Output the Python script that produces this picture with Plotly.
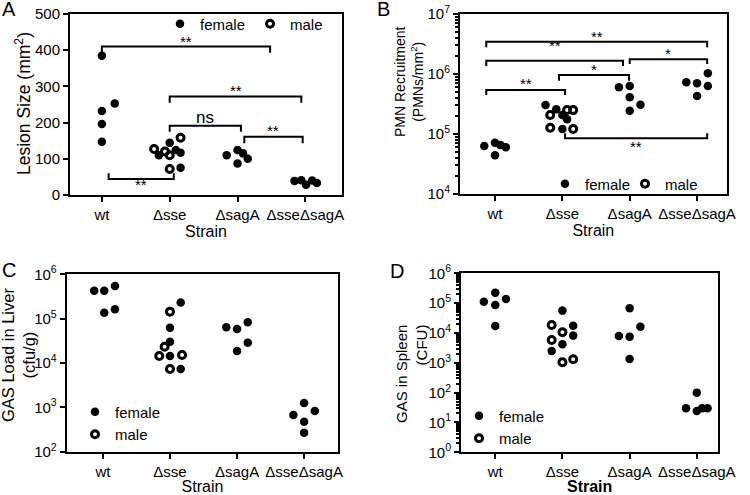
import numpy as np
import plotly.graph_objects as go

# categories and tick labels
strains = ["wt", "Δsse", "ΔsagA", "ΔsseΔsagA"]

# ---- panel A: lesion size (mm2); (category, jitter, value)
a_female_cat = [0, 0, 0, 0, 0, 1, 1, 1, 1, 1, 2, 2, 2, 2, 2, 3, 3, 3, 3, 3]
a_female_jit = [0, 0.19, 0, 0, 0, -0.16, 0, 0.09, 0.16, 0.16, -0.16, 0, 0.08, 0.15, 0, -0.16, -0.06, 0.01, 0.1, 0.17]
a_female_val = [385, 253, 232, 196, 147, 110, 144, 124, 117, 75, 110, 124, 115, 100, 87, 39, 41, 28, 40, 33]
a_male_cat = [1, 1, 1, 1, 1]
a_male_jit = [-0.23, -0.07, 0, 0.16, 0]
a_male_val = [127, 120, 110, 158, 72]
# significance brackets: (start, end, level, tick end, label, label level)
a_brackets = [
    (0, 2.48, 410, 393, "**", 425),
    (1.0, 2.94, 272, 255, "**", 290),
    (1.0, 2.05, 191, 175, "ns", 215),
    (2.1, 2.96, 161, 143, "**", 178),
    (0.1, 1.06, 44, 60, "**", 28),
]

# ---- panel B: PMN recruitment (PMNs/mm2)
b_female_cat = [0, 0, 0, 0, 0, 1, 1, 1, 1, 1, 2, 2, 2, 2, 2, 3, 3, 3, 3, 3]
b_female_jit = [-0.16, 0, 0.08, 0.16, 0, -0.25, -0.09, 0, 0.07, 0, -0.16, 0, 0, 0.16, 0, -0.16, 0, 0.16, 0.16, 0]
b_female_val = [63000, 71600, 65600, 60000, 44200, 304000, 258000, 207000, 176000, 121000,
                600000, 631000, 409000, 308000, 245000, 727000, 699000, 1026000, 631000, 430000]
b_male_cat = [1, 1, 1, 1, 1]
b_male_jit = [-0.18, 0.07, 0.16, -0.18, 0.16]
b_male_val = [207000, 251000, 250000, 127000, 121000]
b_brackets = [
    (-0.13, 3.15, 10**6.539, 10**6.444, "**", 10**6.633),
    (-0.13, 1.9, 10**6.222, 10**6.133, "**", 10**6.467),
    (2.0, 3.15, 10**6.244, 10**6.167, "*", 10**6.344),
    (0.95, 1.99, 10**5.983, 10**5.889, "*", 10**6.078),
    (-0.13, 1.04, 10**5.733, 10**5.65, "**", 10**5.844),
    (1.04, 3.15, 10**4.928, 10**5.011, "**", 10**4.789),
]

# ---- panel C: GAS load in liver (cfu/g)
c_female_cat = [0, 0, 0, 0, 0, 1, 1, 1, 1, 1, 2, 2, 2, 2, 2, 3, 3, 3, 3, 3]
c_female_jit = [-0.13, 0.02, 0.18, 0.02, 0.18, 0.16, 0, 0, 0, 0.16, -0.16, 0, 0.16, 0.16, 0, -0.16, 0, 0.16, 0, 0]
c_female_val = [428000, 428000, 546000, 136000, 162000, 230000, 62600, 30300, 14400, 7330,
                63800, 58500, 82600, 28800, 18700, 671, 1250, 826, 475, 268]
c_male_cat = [1, 1, 1, 1, 1]
c_male_jit = [0, -0.08, -0.16, 0.18, 0]
c_male_val = [144000, 23300, 14400, 15100, 7330]

# ---- panel D: GAS in spleen (CFU)
d_female_cat = [0, 0, 0, 0, 0, 1, 1, 1, 1, 1, 2, 2, 2, 2, 2, 3, 3, 3, 3, 3]
d_female_jit = [-0.17, 0, 0, 0.16, 0, 0, 0.16, 0.16, 0, -0.16, 0, 0.16, -0.16, 0, 0, 0, -0.16, 0, 0.08, 0.16]
d_female_val = [112000, 225000, 86900, 138000, 17200, 56100, 17600, 8150, 4170, 2490,
                67100, 16300, 7940, 7540, 1340, 100, 29.9, 24.3, 29.9, 29.9]
d_male_cat = [1, 1, 1, 1, 1]
d_male_jit = [-0.16, 0, -0.16, 0, 0.16]
d_male_val = [18500, 10500, 5820, 1040, 1310]

FONT = "Arial, Liberation Sans, sans-serif"
W, H = 750, 495


def px_dom(a, b, total):
    return [a / total, b / total]


def ydom(top, bottom):
    return [1 - bottom / H, 1 - top / H]


fig = go.Figure()

panels = [
    # axis suffix, female, male, brackets, legend name, log y
    ("", (a_female_cat, a_female_jit, a_female_val), (a_male_cat, a_male_jit, a_male_val), a_brackets, "legend", False),
    ("2", (b_female_cat, b_female_jit, b_female_val), (b_male_cat, b_male_jit, b_male_val), b_brackets, "legend2", True),
    ("3", (c_female_cat, c_female_jit, c_female_val), (c_male_cat, c_male_jit, c_male_val), [], "legend3", True),
    ("4", (d_female_cat, d_female_jit, d_female_val), (d_male_cat, d_male_jit, d_male_val), [], "legend4", True),
]

for sfx, fem, mal, brackets, leg, is_log in panels:
    xa, ya = "x" + sfx, "y" + sfx
    # brackets first so dots sit on top
    for x0, x1, lvl, tip, lab, lab_y in brackets:
        fig.add_trace(go.Scatter(
            x=[x0, x0, x1, x1], y=[tip, lvl, lvl, tip], mode="lines",
            line=dict(color="black", width=2), xaxis=xa, yaxis=ya,
            showlegend=False, hoverinfo="skip"))
        fig.add_annotation(
            x=(x0 + x1) / 2, y=np.log10(lab_y) if is_log else lab_y, xref=xa, yref=ya,
            text=lab, showarrow=False, xanchor="center", yanchor="middle",
            font=dict(family=FONT, size=17 if lab == "ns" else 15, color="black"))
    fig.add_trace(go.Scatter(
        x=np.array(fem[0]) + np.array(fem[1]), y=fem[2], mode="markers", name="female",
        marker=dict(color="black", size=8.5, symbol="circle"),
        xaxis=xa, yaxis=ya, legend=leg))
    fig.add_trace(go.Scatter(
        x=np.array(mal[0]) + np.array(mal[1]), y=mal[2], mode="markers", name="male",
        marker=dict(color="black", size=7, symbol="circle-open", line=dict(width=3, color="black")),
        xaxis=xa, yaxis=ya, legend=leg))

axis_common = dict(showline=True, linecolor="black", linewidth=2, mirror=True,
                   ticks="outside", ticklen=5, tickwidth=2, tickcolor="black",
                   showgrid=False, zeroline=False, automargin=False,
                   tickfont=dict(family=FONT, size=15, color="black"))


def xaxis_def(dom, rng, anchor, bold=False):
    title = "<b>Strain</b>" if bold else "Strain"
    return dict(axis_common, domain=dom, range=rng, anchor=anchor,
                tickmode="array", tickvals=list(range(len(strains))), ticktext=strains,
                title=dict(text=title, font=dict(family=FONT, size=16, color="black"), standoff=4))


def log_ticks(lo, hi):
    vals = [10 ** k for k in range(lo, hi + 1)]
    text = ["10<sup>%d</sup>" % k for k in range(lo, hi + 1)]
    return vals, text


def minor_vals(lo, hi):
    return [m * 10 ** k for k in range(lo, hi) for m in range(2, 10)]


fig.update_layout(
    xaxis=xaxis_def(px_dom(70, 342, W), [-0.47, 3.54], "y"),
    yaxis=dict(axis_common, domain=ydom(14, 195), range=[0, 500], anchor="x",
               tickmode="array", tickvals=[0, 100, 200, 300, 400, 500]),
    xaxis2=xaxis_def(px_dom(460, 726.7, W), [-0.52, 3.44], "y2"),
    xaxis3=xaxis_def(px_dom(66.7, 338.3, W), [-0.54, 3.51], "y3"),
    xaxis4=xaxis_def(px_dom(461, 718.3, W), [-0.51, 3.32], "y4", bold=True),
)

bv, bt = log_ticks(4, 7)
cv, ct = log_ticks(2, 6)
dv, dt = log_ticks(0, 6)
fig.update_layout(
    yaxis2=dict(axis_common, domain=ydom(14, 194), type="log", range=[4, 7], anchor="x2",
                tickmode="array", tickvals=bv, ticktext=bt,
                minor=dict(ticks="outside", ticklen=3, tickwidth=2, tickcolor="black",
                           tickmode="array", tickvals=minor_vals(4, 7))),
    yaxis3=dict(axis_common, domain=ydom(274.3, 451.7), type="log", range=[2, 6], anchor="x3",
                tickmode="array", tickvals=cv, ticktext=ct),
    yaxis4=dict(axis_common, domain=ydom(273.3, 452.3), type="log", range=[0, 6], anchor="x4",
                tickmode="array", tickvals=dv, ticktext=dt,
                minor=dict(ticks="outside", ticklen=3, tickwidth=1.5, tickcolor="black",
                           tickmode="array", tickvals=minor_vals(0, 6))),
)

leg_common = dict(bgcolor="rgba(0,0,0,0)", font=dict(family=FONT, size=15, color="black"),
                  itemwidth=30, tracegroupgap=0, xref="paper", yref="paper",
                  xanchor="left", yanchor="middle")
fig.update_layout(
    legend=dict(leg_common, orientation="h", x=160 / W, y=1 - 24 / H),
    legend2=dict(leg_common, orientation="h", x=545 / W, y=1 - 184 / H, entrywidth=35),
    legend3=dict(leg_common, orientation="v", x=75 / W, y=1 - 423 / H),
    legend4=dict(leg_common, orientation="v", x=459 / W, y=1 - 427 / H),
)

# y axis titles and panel letters
ann = [
    dict(x=23, y=104, text="Lesion Size (mm<sup>2</sup>)", size=17.5, align="center"),
    dict(x=409, y=82, text="PMN Recruitment<br>(PMNs/mm<sup>2</sup>)", size=14, align="center"),
    dict(x=18, y=355, text="GAS Load in Liver<br>(cfu/g)", size=16.5, align="center"),
    dict(x=411, y=374, text="GAS in Spleen<br>(CFU)", size=15, align="right"),
]
for a in ann:
    fig.add_annotation(x=a["x"] / W, y=1 - a["y"] / H, xref="paper", yref="paper",
                       text=a["text"], textangle=-90, showarrow=False, align=a["align"],
                       xanchor="center", yanchor="middle",
                       font=dict(family=FONT, size=a["size"], color="black"))

for letter, lx, ly in [("A", 0, 9), ("B", 375, 9), ("C", 0, 270), ("D", 388, 271)]:
    fig.add_annotation(x=lx / W, y=1 - ly / H, xref="paper", yref="paper", text=letter,
                       showarrow=False, xanchor="left", yanchor="middle",
                       font=dict(family=FONT, size=20, color="black"))

fig.update_layout(width=W, height=H, margin=dict(l=0, r=0, t=0, b=0),
                  paper_bgcolor="white", plot_bgcolor="white")

# drop the browser's default page margin so the figure sits at the window corner
fig.write_html("out.html", config={"displayModeBar": False},
               post_script="document.body.style.margin='0';")
